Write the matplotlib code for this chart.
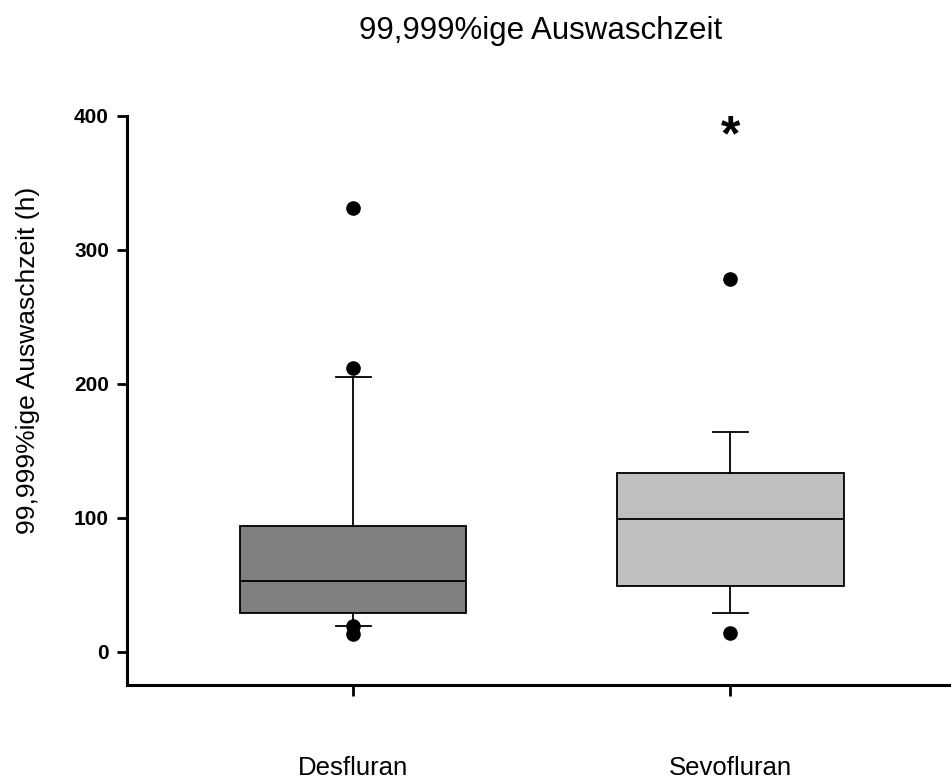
import matplotlib.pyplot as plt

plt.rcParams['font.family'] = ['Liberation Sans', 'DejaVu Sans']

# Werte (Stunden)
gruppen = ['Desfluran', 'Sevofluran']
q1 = [29, 49]
median = [53, 99]
q3 = [94, 133]
whisker_low = [19, 29]
whisker_high = [205, 164]
ausreisser = [[331, 212, 19, 13], [278, 14]]
farben = ['#808080', '#c0c0c0']
stern_wert = 384   # markierter Wert bei Sevofluran

stats = []
for i in range(len(gruppen)):
    stats.append(dict(label=gruppen[i], med=median[i], q1=q1[i], q3=q3[i],
                      whislo=whisker_low[i], whishi=whisker_high[i],
                      fliers=ausreisser[i]))

fig = plt.figure(figsize=(9.51, 7.80), dpi=100)
ax = fig.add_axes([0.1335, 0.1218, 0.8665, 0.7295])

bp = ax.bxp(stats, positions=[1, 2], widths=0.6, patch_artist=True,
            boxprops=dict(edgecolor='black', linewidth=1.3),
            medianprops=dict(color='black', linewidth=1.3),
            whiskerprops=dict(color='black', linewidth=1.3),
            capprops=dict(color='black', linewidth=1.3),
            flierprops=dict(marker='o', markerfacecolor='black',
                            markeredgecolor='black', markersize=9.5))
for patch, c in zip(bp['boxes'], farben):
    patch.set_facecolor(c)
for cap in bp['caps']:
    x = cap.get_xdata()
    mid = (x[0] + x[1]) / 2
    cap.set_xdata([mid - 0.046, mid + 0.046])

ax.text(2, stern_wert, '*', ha='center', va='center', fontsize=36, fontweight='bold')

ax.set_xlim(0.4, 2.585)
ax.set_ylim(-25, 400)
ax.set_yticks([0, 100, 200, 300, 400])
ax.set_xticks([1, 2])
ax.set_xticklabels(gruppen, fontsize=18.5)
for lbl in ax.get_yticklabels():
    lbl.set_fontweight('bold')
    lbl.set_fontsize(15)

ax.spines['top'].set_visible(False)
ax.spines['right'].set_visible(False)
ax.spines['left'].set_linewidth(2.2)
ax.spines['bottom'].set_linewidth(2.2)
ax.tick_params(axis='y', direction='out', length=7, width=2, pad=6)
ax.tick_params(axis='x', direction='out', length=8, width=2, pad=43)

ax.set_ylabel('99,999%ige Auswaschzeit (h)', fontsize=19)
ax.yaxis.set_label_coords(-0.105, 0.571)
fig.text(0.568, 0.96, '99,999%ige Auswaschzeit', ha='center', va='center', fontsize=22.5)

fig.savefig('out.png', dpi=100)
